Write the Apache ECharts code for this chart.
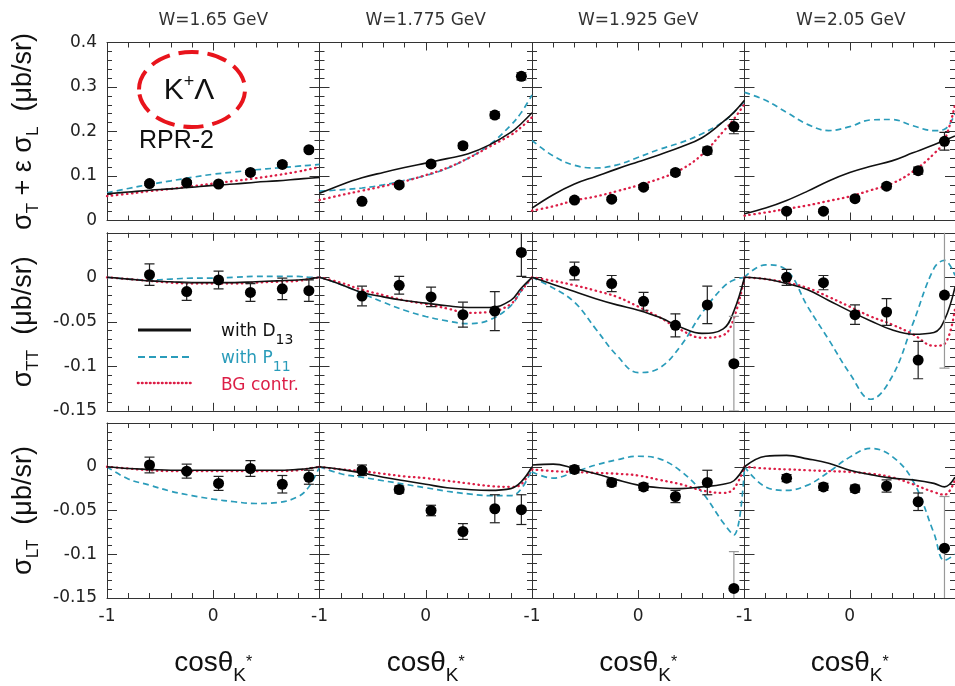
<!DOCTYPE html>
<html>
<head>
<meta charset="utf-8">
<script src="https://cdn.jsdelivr.net/npm/echarts@6/dist/echarts.min.js"></script>
<style>
html, body { margin: 0; padding: 0; background: #fff; }
#main { width: 955px; height: 686px; }
</style>
</head>
<body>
<div id="main"></div>
<script>
// column titles and x positions
var wTitles = ['W=1.65 GeV', 'W=1.775 GeV', 'W=1.925 GeV', 'W=2.05 GeV'];
var cosCurve = [-1, -0.8, -0.6, -0.4, -0.2, 0, 0.2, 0.4, 0.6, 0.8, 0.9, 1];
var cosData = [-0.6, -0.25, 0.05, 0.35, 0.65, 0.9];

// sigma_T + eps sigma_L  (one sub-array per W)
var sigU_D13 = [
    [0.060, 0.064, 0.068, 0.071, 0.075, 0.079, 0.082, 0.086, 0.089, 0.093, 0.095, 0.097],
    [0.061, 0.080, 0.096, 0.108, 0.119, 0.129, 0.139, 0.150, 0.170, 0.198, 0.218, 0.242],
    [0.028, 0.058, 0.082, 0.099, 0.116, 0.132, 0.148, 0.165, 0.186, 0.222, 0.243, 0.270],
    [0.015, 0.028, 0.045, 0.066, 0.089, 0.108, 0.122, 0.134, 0.152, 0.170, 0.180, 0.190]
];
var sigU_P11 = [
    [0.062, 0.072, 0.081, 0.089, 0.097, 0.104, 0.109, 0.114, 0.118, 0.122, 0.124, 0.126],
    [0.066, 0.069, 0.073, 0.080, 0.090, 0.101, 0.117, 0.140, 0.170, 0.214, 0.243, 0.282],
    [0.180, 0.145, 0.124, 0.118, 0.125, 0.142, 0.160, 0.175, 0.195, 0.222, 0.243, 0.268],
    [0.288, 0.270, 0.243, 0.216, 0.202, 0.211, 0.226, 0.227, 0.213, 0.202, 0.205, 0.240]
];
var sigU_BG = [
    [0.055, 0.060, 0.066, 0.071, 0.077, 0.083, 0.089, 0.095, 0.102, 0.110, 0.115, 0.120],
    [0.046, 0.057, 0.067, 0.077, 0.088, 0.102, 0.118, 0.140, 0.166, 0.192, 0.210, 0.232],
    [0.022, 0.032, 0.045, 0.054, 0.066, 0.079, 0.094, 0.114, 0.148, 0.200, 0.228, 0.262],
    [0.011, 0.018, 0.026, 0.034, 0.044, 0.054, 0.068, 0.083, 0.110, 0.150, 0.180, 0.260]
];
var sigU_pts = [
    [0.083, 0.085, 0.082, 0.108, 0.126, 0.159],
    [0.043, 0.080, 0.127, 0.168, 0.237, 0.324],
    [0.046, 0.048, 0.075, 0.108, 0.157, 0.211],
    [0.021, 0.021, 0.049, 0.077, 0.112, 0.178]
];
var sigU_err = [
    [0.004, 0.004, 0.004, 0.004, 0.004, 0.004],
    [0.004, 0.004, 0.005, 0.006, 0.007, 0.008],
    [0.004, 0.004, 0.005, 0.006, 0.008, 0.016],
    [0.004, 0.004, 0.005, 0.006, 0.008, 0.020]
];

// sigma_TT
var sigTT_D13 = [
    [0, -0.002, -0.004, -0.005, -0.006, -0.006, -0.006, -0.005, -0.004, -0.003, -0.002, 0],
    [0, -0.008, -0.017, -0.022, -0.026, -0.029, -0.032, -0.034, -0.034, -0.026, -0.012, 0],
    [0, -0.008, -0.016, -0.024, -0.031, -0.037, -0.045, -0.056, -0.063, -0.058, -0.038, 0],
    [0, -0.002, -0.007, -0.014, -0.026, -0.038, -0.049, -0.059, -0.064, -0.062, -0.048, -0.011]
];
var sigTT_P11 = [
    [0, -0.002, -0.003, -0.002, -0.001, -0.001, 0, 0.001, 0.001, 0.001, 0, 0],
    [0, -0.008, -0.018, -0.028, -0.037, -0.044, -0.049, -0.052, -0.048, -0.032, -0.015, 0],
    [0, -0.012, -0.028, -0.058, -0.088, -0.107, -0.102, -0.077, -0.040, -0.011, -0.003, 0],
    [0, 0.014, 0.008, -0.033, -0.070, -0.108, -0.137, -0.112, -0.052, 0.010, 0.019, 0.002]
];
var sigTT_BG = [
    [0, -0.002, -0.004, -0.006, -0.007, -0.007, -0.007, -0.006, -0.005, -0.004, -0.002, 0],
    [0, -0.006, -0.014, -0.020, -0.026, -0.030, -0.035, -0.040, -0.039, -0.030, -0.015, 0],
    [0, -0.004, -0.009, -0.015, -0.022, -0.033, -0.045, -0.059, -0.068, -0.065, -0.046, 0],
    [0, -0.002, -0.006, -0.012, -0.022, -0.033, -0.044, -0.053, -0.064, -0.077, -0.075, -0.035]
];
var sigTT_pts = [
    [0.003, -0.016, -0.003, -0.017, -0.013, -0.015],
    [-0.021, -0.009, -0.022, -0.042, -0.038, 0.028],
    [0.007, -0.007, -0.027, -0.054, -0.031, -0.097],
    [0.000, -0.006, -0.042, -0.039, -0.093, -0.020]
];
var sigTT_err = [
    [0.012, 0.010, 0.010, 0.010, 0.012, 0.012],
    [0.011, 0.010, 0.011, 0.014, 0.022, 0.027],
    [0.010, 0.009, 0.010, 0.013, 0.021, 0.053],
    [0.009, 0.008, 0.011, 0.015, 0.021, 0.082]
];

// sigma_LT
var sigLT_D13 = [
    [0, -0.002, -0.003, -0.004, -0.004, -0.004, -0.004, -0.004, -0.004, -0.003, -0.002, 0],
    [0, -0.003, -0.007, -0.012, -0.016, -0.020, -0.024, -0.026, -0.027, -0.025, -0.017, 0],
    [0.002, 0.003, -0.002, -0.008, -0.015, -0.021, -0.024, -0.025, -0.023, -0.020, -0.016, 0],
    [0, 0.012, 0.013, 0.009, 0.004, -0.004, -0.009, -0.013, -0.015, -0.019, -0.023, -0.012]
];
var sigLT_P11 = [
    [0, -0.014, -0.021, -0.028, -0.033, -0.037, -0.040, -0.042, -0.041, -0.034, -0.023, 0],
    [0, -0.008, -0.012, -0.016, -0.020, -0.024, -0.028, -0.031, -0.033, -0.033, -0.025, -0.003],
    [-0.006, -0.013, -0.006, 0.002, 0.008, 0.012, 0.009, -0.005, -0.029, -0.064, -0.078, 0],
    [0, -0.023, -0.027, -0.021, -0.006, 0.011, 0.021, 0.012, -0.016, -0.076, -0.107, -0.100]
];
var sigLT_BG = [
    [0, -0.002, -0.004, -0.005, -0.005, -0.005, -0.005, -0.005, -0.005, -0.004, -0.002, 0],
    [0, -0.003, -0.005, -0.008, -0.011, -0.013, -0.016, -0.019, -0.022, -0.023, -0.020, 0],
    [-0.003, -0.005, -0.006, -0.007, -0.008, -0.010, -0.015, -0.020, -0.027, -0.030, -0.025, 0],
    [0, -0.002, -0.003, -0.004, -0.005, -0.006, -0.008, -0.012, -0.020, -0.029, -0.032, -0.015]
];
var sigLT_pts = [
    [0.002, -0.005, -0.019, -0.002, -0.020, -0.012],
    [-0.004, -0.026, -0.050, -0.074, -0.048, -0.049],
    [-0.003, -0.018, -0.023, -0.034, -0.018, -0.139],
    [-0.013, -0.023, -0.025, -0.022, -0.040, -0.093]
];
var sigLT_err = [
    [0.009, 0.008, 0.008, 0.009, 0.010, 0.008],
    [0.006, 0.004, 0.006, 0.009, 0.016, 0.017],
    [0.004, 0.004, 0.004, 0.007, 0.014, 0.042],
    [0.004, 0.004, 0.004, 0.007, 0.010, 0.059]
];

var rows = [
    {d13: sigU_D13, p11: sigU_P11, bg: sigU_BG, pts: sigU_pts, err: sigU_err, min: 0, max: 0.4, step: 0.1,
     name: '{g|σ}{s|T}{g| + ε σ}{s|L}{g|  (μb/sr)}'},
    {d13: sigTT_D13, p11: sigTT_P11, bg: sigTT_BG, pts: sigTT_pts, err: sigTT_err, min: -0.15, max: 0.05, step: 0.05,
     name: '{g|σ}{s|TT}{g|  (μb/sr)}'},
    {d13: sigLT_D13, p11: sigLT_P11, bg: sigLT_BG, pts: sigLT_pts, err: sigLT_err, min: -0.15, max: 0.05, step: 0.05,
     name: '{g|σ}{s|LT}{g|  (μb/sr)}'}
];

var colLeft = [107, 319.5, 532, 744.5];
var rowTop = [42.5, 232.8, 423];
var panelW = 212.5, panelH = 178;

var axisCol = '#333';
var tickFont = 'DejaVu Sans';
var teal = '#2a9cba';
var red = '#dc1e46';

function pairs(xs, ys) {
    return xs.map(function (x, i) { return [x, ys[i]]; });
}

function errorBar(params, api) {
    var x = api.value(0), y = api.value(1), e = api.value(2);
    var hi = api.coord([x, y + e]);
    var lo = api.coord([x, y - e]);
    var cw = 5;
    var st = {stroke: e > 0.035 ? '#999' : '#222', lineWidth: 1.2};
    return {
        type: 'group',
        children: [
            {type: 'line', shape: {x1: hi[0], y1: hi[1], x2: lo[0], y2: lo[1]}, style: st},
            {type: 'line', shape: {x1: hi[0] - cw, y1: hi[1], x2: hi[0] + cw, y2: hi[1]}, style: st},
            {type: 'line', shape: {x1: lo[0] - cw, y1: lo[1], x2: lo[0] + cw, y2: lo[1]}, style: st}
        ]
    };
}

var nameRich = {
    g: {fontFamily: 'Liberation Sans', fontSize: 27, lineHeight: 36, color: '#111'},
    s: {fontFamily: 'Liberation Sans', fontSize: 17, verticalAlign: 'bottom', color: '#111'}
};
var cosRich = {
    g: {fontFamily: 'Liberation Sans', fontSize: 28, lineHeight: 44, color: '#111'},
    s: {fontFamily: 'Liberation Sans', fontSize: 19, verticalAlign: 'bottom', color: '#111'},
    p: {fontFamily: 'Liberation Sans', fontSize: 16, verticalAlign: 'middle', color: '#111'}
};

var grids = [], xAxes = [], yAxes = [], series = [];

for (var r = 0; r < 3; r++) {
    var row = rows[r];
    for (var c = 0; c < 4; c++) {
        var g = grids.length;
        grids.push({left: colLeft[c], top: rowTop[r], width: panelW, height: panelH});

        var xBase = {
            gridIndex: g, type: 'value', min: -1, max: 1, interval: 1,
            axisLine: {show: true, onZero: false, lineStyle: {color: axisCol, width: 1}},
            axisTick: {show: true, inside: true, length: 8, lineStyle: {color: axisCol}},
            minorTick: {show: true, splitNumber: 5, length: 5, lineStyle: {color: axisCol}},
            splitLine: {show: false}
        };
        xAxes.push(Object.assign({}, xBase, {
            position: 'bottom',
            axisLabel: {show: r === 2, showMaxLabel: false, margin: 10, fontFamily: tickFont, fontSize: 17, color: '#222'},
            name: r === 2 ? '{g|cosθ}{s|K}{p|*}' : '',
            nameLocation: 'middle', nameGap: 43,
            nameTextStyle: {rich: cosRich}
        }));
        xAxes.push(Object.assign({}, xBase, {position: 'top', axisLabel: {show: false}}));

        var yBase = {
            gridIndex: g, type: 'value', min: row.min, max: row.max, interval: row.step,
            axisLine: {show: true, onZero: false, lineStyle: {color: axisCol, width: 1}},
            axisTick: {show: true, inside: true, length: 10, lineStyle: {color: axisCol}},
            minorTick: {show: true, splitNumber: 5, length: 5, lineStyle: {color: axisCol}},
            splitLine: {show: false}
        };
        yAxes.push(Object.assign({}, yBase, {
            position: 'left',
            axisLabel: {show: c === 0, showMaxLabel: r === 0, margin: 10, fontFamily: tickFont, fontSize: 17, color: '#222'},
            name: c === 0 ? row.name : '',
            nameLocation: 'middle', nameRotate: 90, nameGap: 65,
            nameTextStyle: {rich: nameRich}
        }));
        yAxes.push(Object.assign({}, yBase, {position: 'right', axisLabel: {show: false}}));

        var xi = 2 * g, yi = 2 * g;
        series.push({
            type: 'line', xAxisIndex: xi, yAxisIndex: yi, data: pairs(cosCurve, row.p11[c]),
            smooth: 0.4, symbol: 'none', silent: true, z: 3,
            lineStyle: {color: teal, width: 1.7, type: [6, 4]}
        });
        series.push({
            type: 'line', xAxisIndex: xi, yAxisIndex: yi, data: pairs(cosCurve, row.bg[c]),
            smooth: 0.4, symbol: 'none', silent: true, z: 3,
            lineStyle: {color: red, width: 2.3, type: [0.5, 4.5], cap: 'round'}
        });
        series.push({
            type: 'line', xAxisIndex: xi, yAxisIndex: yi, data: pairs(cosCurve, row.d13[c]),
            smooth: 0.4, symbol: 'none', silent: true, z: 4,
            lineStyle: {color: '#111', width: 1.6}
        });
        series.push({
            type: 'custom', xAxisIndex: xi, yAxisIndex: yi, clip: true, z: 5,
            renderItem: errorBar,
            data: cosData.map(function (x, i) { return [x, row.pts[c][i], row.err[c][i]]; })
        });
        series.push({
            type: 'scatter', xAxisIndex: xi, yAxisIndex: yi, data: pairs(cosData, row.pts[c]),
            symbol: 'circle', symbolSize: 11, itemStyle: {color: '#000', opacity: 1}, z: 6, silent: true
        });
    }
}

var graphics = [];
wTitles.forEach(function (t, c) {
    graphics.push({
        type: 'text', x: colLeft[c] + panelW / 2, y: 21,
        style: {text: t, fill: '#333', fontFamily: tickFont, fontSize: 17, align: 'center', verticalAlign: 'middle'}
    });
});

// K+Lambda label with dashed ellipse
graphics.push({
    type: 'ellipse', shape: {cx: 192, cy: 89.5, rx: 53, ry: 37.5},
    style: {fill: 'none', stroke: '#e8141c', lineWidth: 4, lineDash: [20, 9]}
});
graphics.push({
    type: 'text', x: 189, y: 91,
    style: {
        text: '{m|K}{p|+}{m|Λ}', align: 'center', verticalAlign: 'middle',
        rich: {
            m: {fontFamily: 'Liberation Sans', fontSize: 30, lineHeight: 36, fill: '#111'},
            p: {fontFamily: 'Liberation Sans', fontSize: 18, verticalAlign: 'top', fill: '#111'}
        }
    }
});
graphics.push({
    type: 'text', x: 139, y: 141,
    style: {text: 'RPR-2', fill: '#111', fontFamily: 'Liberation Sans', fontSize: 25, align: 'left', verticalAlign: 'middle'}
});

// legend (row 2, first panel)
var legendItems = [
    {label: '{a|with D}{b|13}', color: '#111', y: 330, ty: 332, dash: null, width: 3},
    {label: '{a|with P}{b|11}', color: teal, y: 357, ty: 359, dash: [7, 4], width: 2},
    {label: '{a|BG contr.}', color: red, y: 383, ty: 386, dash: [0.5, 3.5], width: 2.6}
];
legendItems.forEach(function (it) {
    graphics.push({
        type: 'line', shape: {x1: 138, y1: it.y, x2: 191, y2: it.y},
        style: {stroke: it.color, lineWidth: it.width, lineDash: it.dash, lineCap: it.dash && it.dash[0] < 1 ? 'round' : 'butt'}
    });
    graphics.push({
        type: 'text', x: 221, y: it.ty,
        style: {
            text: it.label, align: 'left', verticalAlign: 'middle',
            rich: {
                a: {fontFamily: tickFont, fontSize: 17, lineHeight: 30, fill: it.color},
                b: {fontFamily: tickFont, fontSize: 14, verticalAlign: 'bottom', fill: it.color}
            }
        }
    });
});

var chart = echarts.init(document.getElementById('main'));
chart.setOption({
    animation: false,
    backgroundColor: '#fff',
    grid: grids,
    xAxis: xAxes,
    yAxis: yAxes,
    series: series,
    graphic: graphics
});
</script>
</body>
</html>
